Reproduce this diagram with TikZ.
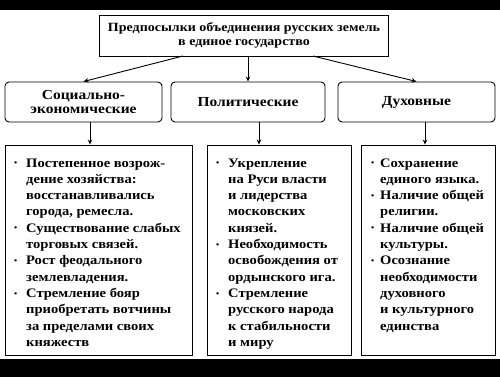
\documentclass[tikz,border=0pt]{standalone}
\usepackage{fontspec}
\setmainfont{Liberation Serif}[FakeStretch=1.12]
\usetikzlibrary{arrows.meta,calc}
\newcommand\bl[1]{\makebox[#1][l]{\raisebox{1.2pt}{\fontsize{8}{8}\selectfont•}}}
\newcommand\ct[1]{\hspace*{#1}}
\begin{document}
\begin{tikzpicture}[x=1pt,y=-1pt,
  ln/.style={line width=0.9pt},
  arr/.style={ln,-{Stealth[length=5pt,width=4.5pt]}},
  titlebox/.style={draw,ln,inner sep=0pt,align=center,font=\fontsize{12.5}{14.5}\selectfont\bfseries},
  catbox/.style={draw,ln,rounded corners=4pt,inner sep=0pt,align=center,font=\fontsize{13.8}{14.5}\selectfont\bfseries},
  listbox/.style={draw,ln,inner sep=0pt},
  listtext/.style={inner sep=0pt,anchor=base west,font=\fontsize{13}{16.3}\selectfont\bfseries}]
\useasboundingbox (0,0) rectangle (500,377);
\fill[black] (0,0) rectangle (500,377);
\fill[white] (0,10) rectangle (500,359);
% title
\node[titlebox,minimum width=289pt,minimum height=41pt] (title) at (244,35.5)
  {Предпосылки объединения русских земель\\в единое государство};
% categories
\node[catbox,minimum width=157pt,minimum height=40pt] (c1) at (83.5,102) {Социально-\\экономические};
\node[catbox,minimum width=154pt,minimum height=40pt] (c2) at (248,102) {Политические};
\node[catbox,minimum width=157pt,minimum height=40pt] (c3) at (416.5,102) {Духовные};
% list boxes
\node[listbox,minimum width=187pt,minimum height=210pt] (b1) at (98.5,250) {};
\node[listbox,minimum width=144pt,minimum height=210pt] (b2) at (279,250) {};
\node[listbox,minimum width=134pt,minimum height=210pt] (b3) at (428,250) {};
% list texts
\node[listtext] (t1) at (14,167) {\begin{tabular}[t]{@{}l@{}}
\bl{12pt}Постепенное возрож-\\
\ct{12pt}дение хозяйства:\\
\ct{12pt}восстанавливались\\
\ct{12pt}города, ремесла.\\
\bl{12pt}Существование слабых\\
\ct{12pt}торговых связей.\\
\bl{12pt}Рост феодального\\
\ct{12pt}землевладения.\\
\bl{12pt}Стремление бояр\\
\ct{12pt}приобретать вотчины\\
\ct{12pt}за пределами своих\\
\ct{12pt}княжеств
\end{tabular}};
\node[listtext] (t2) at (216,167) {\begin{tabular}[t]{@{}l@{}}
\bl{12pt}Укрепление\\
\ct{12pt}на Руси власти\\
\ct{12pt}и лидерства\\
\ct{12pt}московских\\
\ct{12pt}князей.\\
\bl{12pt}Необходимость\\
\ct{12pt}освобождения от\\
\ct{12pt}ордынского ига.\\
\bl{12pt}Стремление\\
\ct{12pt}русского народа\\
\ct{12pt}к стабильности\\
\ct{12pt}и миру
\end{tabular}};
\node[listtext] (t3) at (371,167) {\begin{tabular}[t]{@{}l@{}}
\bl{9pt}Сохранение\\
\ct{9pt}единого языка.\\
\bl{9pt}Наличие общей\\
\ct{9pt}религии.\\
\bl{9pt}Наличие общей\\
\ct{9pt}культуры.\\
\bl{9pt}Осознание\\
\ct{9pt}необходимости\\
\ct{9pt}духовного\\
\ct{9pt}и культурного\\
\ct{9pt}единства
\end{tabular}};
% connectors
\coordinate (s1) at (183,56);
\coordinate (s3) at (313,56);
\coordinate (x1) at (90,0);
\coordinate (x2) at (259,0);
\coordinate (x3) at (425,0);
\draw[arr] (s1) -- (c1.north);
\draw[arr] (title.south -| c2.north) -- (c2.north);
\draw[arr] (s3) -- (c3.north);
\draw[arr] (c1.south -| x1) -- (b1.north -| x1);
\draw[arr] (c2.south -| x2) -- (b2.north -| x2);
\draw[arr] (c3.south -| x3) -- (b3.north -| x3);
\end{tikzpicture}
\end{document}
